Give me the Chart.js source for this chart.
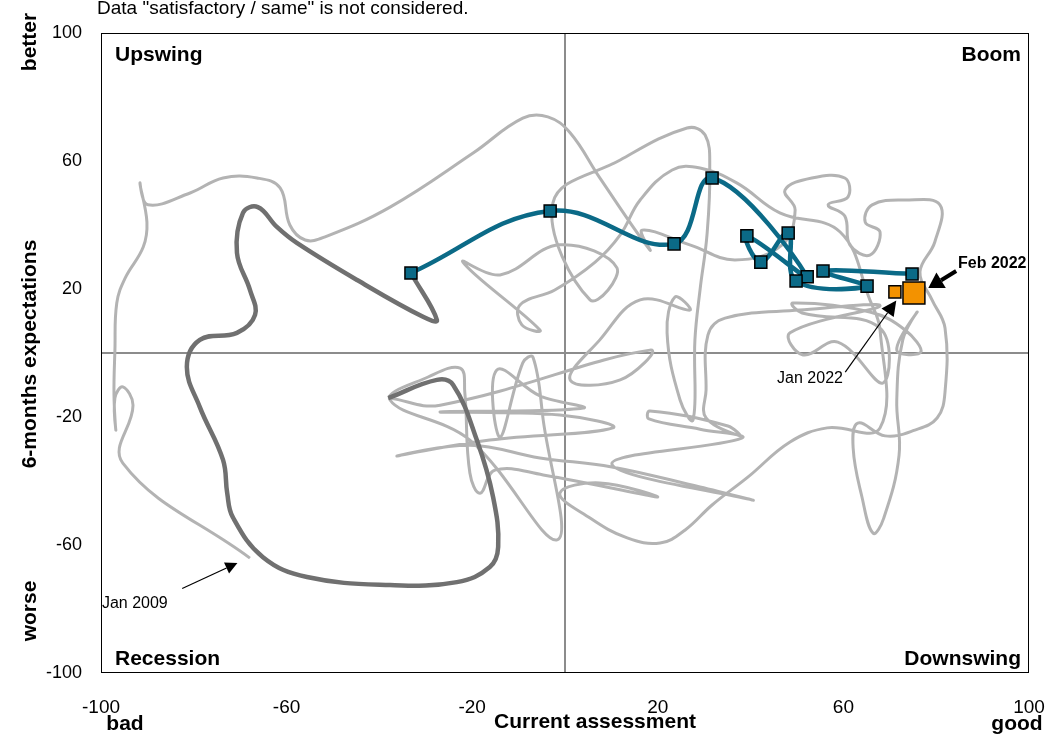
<!DOCTYPE html>
<html><head><meta charset="utf-8">
<script src="https://cdn.jsdelivr.net/npm/chart.js@4.4.1/dist/chart.umd.min.js"></script>
<style>html,body{margin:0;padding:0;background:#fff;overflow:hidden}</style>
</head><body>
<canvas id="c" width="1046" height="739"></canvas>
<script>
// ---- DATA (current assessment, 6-months expectations) ----
const xTicks = [-100, -60, -20, 20, 60, 100];
const yTicks = [-100, -60, -20, 20, 60, 100];

// history Jan 2009 - Dec 2019 (light grey)
const greyPath = [
[-67.9,-64.1],[-95.3,-34.4],[-93.1,-16.3],[-95.3,-10.6],[-97.0,-14.1],[-96.8,-24.1],[-97.2,-13.1],[-97.0,0.9],
[-96.6,15.6],[-94.8,23.4],[-90.9,33.1],[-90.1,40.9],[-91.6,53.1],[-89.9,46.3],[-80.8,50],[-73.7,54.7],
[-66.4,54.7],[-61.4,51.6],[-59.3,40],[-56.0,35.3],[-51.7,36.3],[-37.7,45.6],[-19.8,62.5],[-9.1,73.4],
[-3.7,73.8],[1.1,68.8],[7.5,54.7],[18.3,32.2],[16.6,38.4],[26.9,33.8],[36.6,29.1],[46.8,33.8],
[49.6,44.7],[47.4,50.9],[53.2,54.7],[60.3,54.7],[61.0,48.8],[56.7,46.3],[60.3,42.8],[61.4,33.8],
[65.7,30.6],[67.9,37.8],[64.7,40.9],[66.2,46.3],
[73.3,47.8],[80.8,46.3],[79.7,34.7],[76.5,25.3],[79.1,16.6],[81.9,7.8],[81.9,-12.2],[80.2,-20.3],
[75.4,-24.1],[69.0,-25.9],[63.1,-21.9],[62.1,-29.7],[64.0,-45],[66.4,-56.3],[68.7,-51.6],[72.0,-31.9],
[71.5,-14.7],[72.8,4.1],[75.9,12.8],[71.5,0.9],[76.7,0.3],[73.3,7.2],[65.7,12.8],[49.1,15.6],
[51.1,12.5],[67.9,7.8],[68.5,-9.4],[58.8,3.4],[51.3,-0.6],[48.5,6.3],[67.9,14.7],[50.6,13.4],
[34.5,10.9],[30.8,5.6],[30.4,-11.6],[30.4,-20.3],[37.7,-25.9],[35.1,-22.8],[18.3,-18.1],[18.1,-20.6],
[29.1,-23.8],[38.1,-26.6],[10.1,-34.7],[40.3,-45.9],[29.1,-41.9],[10.1,-35.6],[-5.4,-32.8],[-20.5,-28.8],
[-36.2,-32.2],[-16.2,-27.2],[10.3,-23.4],[-1.1,-19.4],[-26.9,-18.4],[3.9,-17.2],[-5.4,-13.4],[-14.7,-5.3],
[-14.0,-26.3],[-9.1,-3.1],[-6.9,-1.3],[-4.7,-20.9],[-1.7,-58.4],[-20.5,-27.2],[-37.7,-14.7],[-29.5,-7.5],
[-22.6,-4.7],[-21.6,-12.2],[-20.5,-37.5],[-18.3,-43.8],[-15.1,-36.6],[-4.7,-38.1],[19.8,-45],[7.5,-40.6],
[-1.1,-43.8],[5.4,-51.6],[13.4,-57.8],[20.5,-59.4],[25.9,-55.3],[31.7,-47.5],[39.4,-38.8],[48.5,-27.8],
[56.5,-23.4],[67.9,-23.4],[67.9,7.2],[65.7,16.6],[59.3,37.8],[46.3,43.8],[37.1,53.1],[29.1,57.8],
[23.1,57.2],[16.2,47.8],[11.9,36.9],[6.5,28.4],[-2.2,19.7],[-9.7,15],[-9.3,8.8],[-5.4,7.2],
[-22.0,28.4],[-14.0,24.4],[-1.1,33.8],[11.2,26.6],[5.4,16.6],[-2.6,46.9],[11.9,60.3],[26.3,70.3],
[30.2,68.1],[31.2,57.2],[30.6,36.9],[29.1,19.7],[28.0,4.1],[27.6,-20.9],[24.8,-14.7],[22.0,6.3],
[23.7,17.5],[26.9,13.4],[16.2,16.6],[7.5,4.1],[1.1,-8.4],[11.9,-8.4],[18.3,0.9],[-26.9,-16.3],[-37.7,-14.1]
];

// 2020 (dark grey)
const covidPath = [
[-38.1,-14.1],[-27.6,-8.4],[-24.1,-10],[-19,-27.2],[-15.5,-45],[-14.4,-60.6],[-16.2,-66.9],[-23.3,-71.6],
[-37.7,-72.5],[-55.6,-70],[-65.1,-63.8],[-71.6,-51.3],[-72.8,-43.8],[-73.7,-33.4],[-78.7,-16.9],[-81.5,-4.4],
[-78.7,4.1],[-70.7,6.3],[-66.8,11.9],[-67.9,19.7],[-70.7,31.3],[-69.4,43.8],[-66.2,45.6],[-62.1,39.4],
[-57.8,34.4],[-44.8,22.8],[-30.6,11.3],[-27.6,10.3],[-33.2,25]
];

// 2021 (teal, monthly markers)
const tealPath = [
[-33.2,25],[-3.2,44.4],[23.5,34.1],[31.7,54.7],[52.2,23.8],[39.2,36.6],
[42.2,28.4],[48.1,37.5],[49.8,22.5],[65.1,20.9],[55.6,25.6],[74.8,24.7]
];

// Jan 2022, Feb 2022 (orange)
const latestLabels = ['Jan 2022', 'Feb 2022'];
const latestPoints = [[71.1,19.1],[75.2,18.75]];

// ---- annotation placement (data units) ----
const notes = [
  {text:'Feb 2022', bold:true, align:'left', at:[84.7,26.6], from:[84.3,25.6], to:[78.3,20.3], lw:4, hl:15, hw:9},
  {text:'Jan 2022', bold:false, align:'right', at:[59.9,-9.4], from:[60.4,-6.0], to:[71.4,16.4], lw:1.2, hl:15, hw:7.5},
  {text:'Jan 2009', bold:false, align:'left', at:[-99.8,-79.6], from:[-82.5,-73.6], to:[-70.6,-65.6], lw:1.2, hl:12, hw:6}
];

const FONT = '"Liberation Sans", Arial, Helvetica, sans-serif';
const toXY = p => ({x:p[0], y:p[1]});

const overlay = {
  id:'overlay',
  beforeDatasetsDraw(chart){
    const {ctx, chartArea:a, scales:{x,y}} = chart;
    ctx.save();
    ctx.strokeStyle = '#8c8c8c'; ctx.lineWidth = 2;
    const x0 = x.getPixelForValue(0), y0 = y.getPixelForValue(0);
    ctx.beginPath();
    ctx.moveTo(x0, a.top); ctx.lineTo(x0, a.bottom);
    ctx.moveTo(a.left, y0); ctx.lineTo(a.right, y0);
    ctx.stroke();
    ctx.restore();
  },
  afterDraw(chart){
    const {ctx, chartArea:a, scales:{x,y}} = chart;
    ctx.save();
    ctx.strokeStyle = '#000'; ctx.lineWidth = 1;
    ctx.strokeRect(a.left + 0.5, a.top + 0.5, a.right - a.left - 1, a.bottom - a.top - 1);

    ctx.fillStyle = '#000';
    // subtitle (cut at top)
    ctx.font = '19px ' + FONT; ctx.textAlign = 'left'; ctx.textBaseline = 'alphabetic';
    ctx.fillText('Data "satisfactory / same" is not considered.', 97, 14);

    // quadrant labels
    ctx.font = 'bold 21px ' + FONT;
    ctx.textAlign = 'left';
    ctx.fillText('Upswing', a.left + 14, a.top + 28);
    ctx.fillText('Recession', a.left + 14, a.bottom - 8);
    ctx.textAlign = 'right';
    ctx.fillText('Boom', a.right - 8, a.top + 28);
    ctx.fillText('Downswing', a.right - 8, a.bottom - 8);

    // axis titles
    ctx.textAlign = 'center';
    ctx.fillText('Current assessment', 595, 728);
    ctx.fillText('bad', 125, 730);
    ctx.fillText('good', 1017, 730);
    const vtext = (t, cx, cy) => { ctx.save(); ctx.translate(cx, cy); ctx.rotate(-Math.PI/2); ctx.textAlign='center'; ctx.textBaseline='middle'; ctx.fillText(t, 0, 0); ctx.restore(); };
    vtext('better', 30, 42);
    vtext('6-months expectations', 30, 354);
    vtext('worse', 30, 611);

    // annotations
    notes.forEach(n => {
      const px = x.getPixelForValue(n.at[0]), py = y.getPixelForValue(n.at[1]);
      ctx.font = (n.bold ? 'bold 16px ' : '16px ') + FONT;
      ctx.textAlign = n.align; ctx.textBaseline = 'alphabetic';
      ctx.fillText(n.text, px, py);
      const fx = x.getPixelForValue(n.from[0]), fy = y.getPixelForValue(n.from[1]);
      const tx = x.getPixelForValue(n.to[0]), ty = y.getPixelForValue(n.to[1]);
      const ang = Math.atan2(ty - fy, tx - fx);
      const bx = tx - n.hl * Math.cos(ang), by = ty - n.hl * Math.sin(ang);
      ctx.strokeStyle = '#000'; ctx.lineWidth = n.lw;
      ctx.beginPath(); ctx.moveTo(fx, fy); ctx.lineTo(bx, by); ctx.stroke();
      ctx.beginPath();
      ctx.moveTo(tx, ty);
      ctx.lineTo(bx + n.hw * Math.sin(ang), by - n.hw * Math.cos(ang));
      ctx.lineTo(bx - n.hw * Math.sin(ang), by + n.hw * Math.cos(ang));
      ctx.closePath(); ctx.fill();
    });
    ctx.restore();
  }
};

new Chart(document.getElementById('c'), {
  type: 'scatter',
  data: {
    datasets: [
      {label:'2022', data: latestPoints.map(toXY), showLine:false, order:0,
       pointStyle:'rect', pointRadius:[8.5,15.5], pointBackgroundColor:'#f39200', pointBorderColor:'#000', pointBorderWidth:1.5},
      {label:'2021', data: tealPath.map(toXY), showLine:true, order:1, tension:0.4,
       borderColor:'#0b6a87', borderWidth:4.5, pointStyle:'rect', pointRadius:8.5,
       pointBackgroundColor:'#0b6a87', pointBorderColor:'#000', pointBorderWidth:1.5},
      {label:'2020', data: covidPath.map(toXY), showLine:true, order:2, tension:0.4,
       borderColor:'#707070', borderWidth:4.5, pointRadius:0},
      {label:'2009-2019', data: greyPath.map(toXY), showLine:true, order:3, tension:0.4,
       borderColor:'#b3b3b3', borderWidth:3, pointRadius:0}
    ]
  },
  options: {
    responsive:false, animation:false, devicePixelRatio:1,
    layout:{padding:{top:33, right:17, left:0, bottom:0}},
    plugins:{legend:{display:false}, tooltip:{enabled:false}},
    events:[],
    scales:{
      x:{type:'linear', min:-100, max:100,
         afterBuildTicks: s => { s.ticks = xTicks.map(v => ({value:v})); },
         afterFit: s => { s.height = 66; s.paddingLeft = 0; s.paddingRight = 0; },
         grid:{display:false, drawTicks:false}, border:{display:false},
         ticks:{color:'#000', font:{family:FONT, size:19}, padding:23, maxRotation:0, autoSkip:false}},
      y:{type:'linear', min:-100, max:100,
         afterBuildTicks: s => { s.ticks = yTicks.map(v => ({value:v})); },
         afterFit: s => { s.width = 101; s.paddingTop = 0; s.paddingBottom = 0; },
         grid:{display:false, drawTicks:false}, border:{display:false},
         ticks:{color:'#000', font:{family:FONT, size:18}, padding:19, autoSkip:false}}
    }
  },
  plugins:[overlay]
});
</script>
</body></html>
